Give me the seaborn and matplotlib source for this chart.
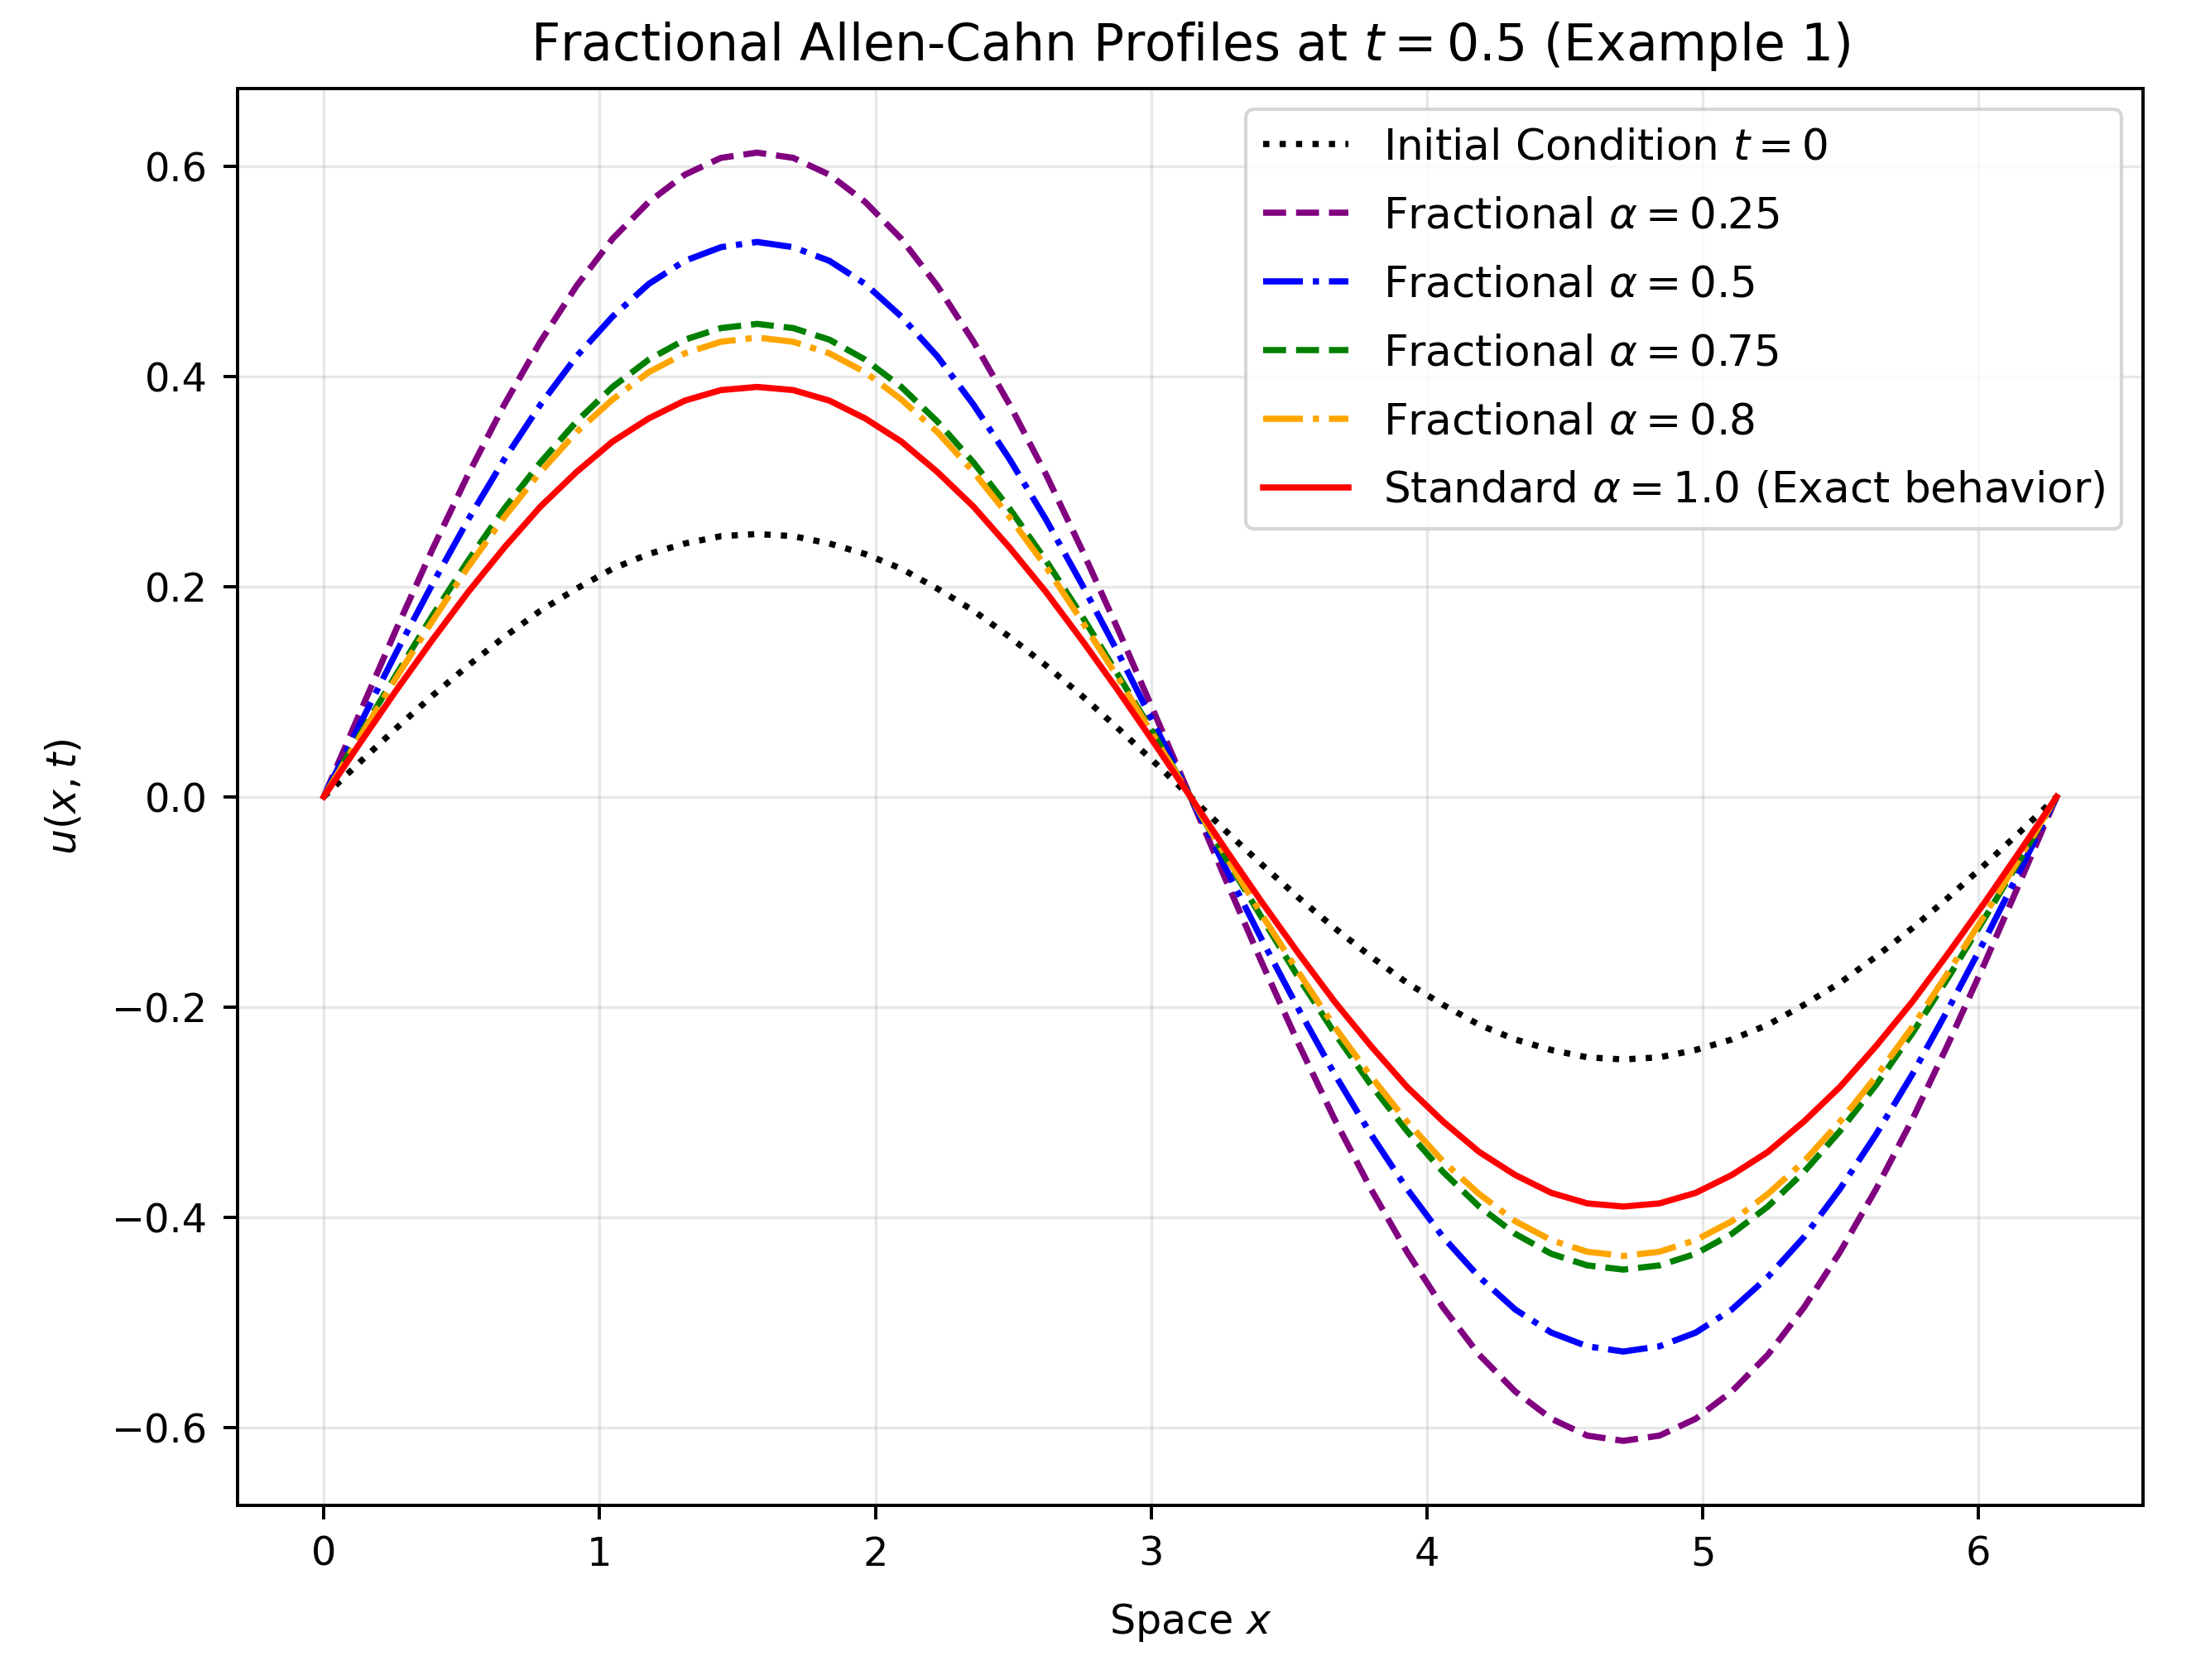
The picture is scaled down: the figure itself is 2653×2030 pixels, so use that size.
import numpy as np
import matplotlib
matplotlib.use("Agg")
import matplotlib.pyplot as plt
import seaborn as sns

# sample positions along x (0 .. 2*pi)
x_vals = [0.000, 0.131, 0.262, 0.393, 0.524, 0.654, 0.785, 0.916, 1.047, 1.178, 1.309, 1.440, 1.571,
          1.702, 1.833, 1.963, 2.094, 2.225, 2.356, 2.487, 2.618, 2.749, 2.880, 3.011, 3.142,
          3.272, 3.403, 3.534, 3.665, 3.796, 3.927, 4.058, 4.189, 4.320, 4.451, 4.581, 4.712,
          4.843, 4.974, 5.105, 5.236, 5.367, 5.498, 5.629, 5.760, 5.890, 6.021, 6.152, 6.283]

# profiles
u_init = [0, .033, .065, .096, .125, .152, .177, .198, .217, .231, .241, .248, .250,
          .248, .241, .231, .217, .198, .177, .152, .125, .096, .065, .033, 0,
          -.033, -.065, -.096, -.125, -.152, -.177, -.198, -.217, -.231, -.241, -.248, -.250,
          -.248, -.241, -.231, -.217, -.198, -.177, -.152, -.125, -.096, -.065, -.033, 0]
u_a025 = [0, .080, .159, .235, .307, .373, .433, .486, .531, .566, .592, .608, .613,
          .608, .592, .566, .531, .486, .433, .373, .307, .235, .159, .080, 0,
          -.080, -.159, -.235, -.307, -.373, -.433, -.486, -.531, -.566, -.592, -.608, -.613,
          -.608, -.592, -.566, -.531, -.486, -.433, -.373, -.307, -.235, -.159, -.080, 0]
u_a05 = [0, .069, .137, .202, .264, .321, .373, .419, .457, .488, .510, .523, .528,
         .523, .510, .488, .457, .419, .373, .321, .264, .202, .137, .069, 0,
         -.069, -.137, -.202, -.264, -.321, -.373, -.419, -.457, -.488, -.510, -.523, -.528,
         -.523, -.510, -.488, -.457, -.419, -.373, -.321, -.264, -.202, -.137, -.069, 0]
u_a075 = [0, .059, .116, .172, .225, .274, .318, .357, .390, .416, .435, .446, .450,
          .446, .435, .416, .390, .357, .318, .274, .225, .172, .116, .059, 0,
          -.059, -.116, -.172, -.225, -.274, -.318, -.357, -.390, -.416, -.435, -.446, -.450,
          -.446, -.435, -.416, -.390, -.357, -.318, -.274, -.225, -.172, -.116, -.059, 0]
u_a08 = [0, .057, .113, .167, .219, .266, .309, .347, .378, .404, .422, .433, .437,
         .433, .422, .404, .378, .347, .309, .266, .219, .167, .113, .057, 0,
         -.057, -.113, -.167, -.219, -.266, -.309, -.347, -.378, -.404, -.422, -.433, -.437,
         -.433, -.422, -.404, -.378, -.347, -.309, -.266, -.219, -.167, -.113, -.057, 0]
u_a1 = [0, .051, .101, .149, .195, .237, .276, .309, .338, .360, .377, .387, .390,
        .387, .377, .360, .338, .309, .276, .237, .195, .149, .101, .051, 0,
        -.051, -.101, -.149, -.195, -.237, -.276, -.309, -.338, -.360, -.377, -.387, -.390,
        -.387, -.377, -.360, -.338, -.309, -.276, -.237, -.195, -.149, -.101, -.051, 0]

labels = [r'Initial Condition $t=0$', r'Fractional $\alpha=0.25$', r'Fractional $\alpha=0.5$',
          r'Fractional $\alpha=0.75$', r'Fractional $\alpha=0.8$',
          r'Standard $\alpha=1.0$ (Exact behavior)']

series = [u_init, u_a025, u_a05, u_a075, u_a08, u_a1]
colors = ['black', 'purple', 'blue', 'green', 'orange', 'red']
styles = [':', '--', '-.', '--', '-.', '-']

fig, ax = plt.subplots(figsize=(2653 / 300, 2030 / 300), dpi=300)
fig.subplots_adjust(left=0.108, right=0.976, top=0.9475, bottom=0.104)

for y, lab, c, ls in zip(series, labels, colors, styles):
    sns.lineplot(x=x_vals, y=y, ax=ax, color=c, linestyle=ls, linewidth=1.8, label=lab)

ax.set_title(r'Fractional Allen-Cahn Profiles at $t=0.5$ (Example 1)', fontsize=14.8, pad=8)
ax.set_xlabel(r'Space $x$', fontsize=11.8, labelpad=8)
ax.set_ylabel(r'$u(x,t)$', fontsize=11.8, labelpad=8)
ax.tick_params(labelsize=11.5, width=0.95, length=4.1, pad=4.5)
for sp in ax.spines.values():
    sp.set_linewidth(0.95)
ax.grid(True, alpha=0.3)
ax.legend(fontsize=12.4, loc='upper right', labelspacing=0.64)

plt.savefig('out.png', dpi=300)
